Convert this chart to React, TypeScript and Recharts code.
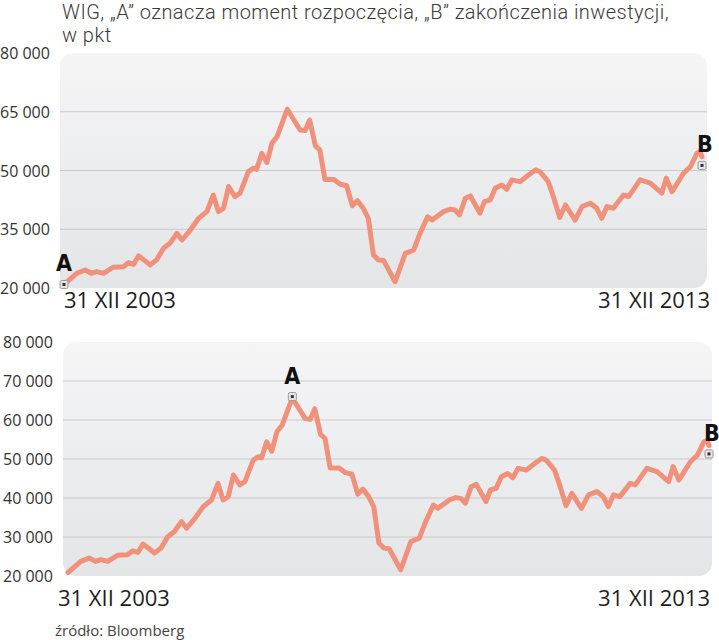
import React from "react";
import {
  LineChart,
  Line,
  XAxis,
  YAxis,
  CartesianGrid,
  ReferenceDot,
} from "recharts";

// WIG, 31 XII 2003 – 31 XII 2013 (x = year fraction, 2004.0 = 31 XII 2003)
const years = [
  2004.0, 2004.2, 2004.33, 2004.43, 2004.51, 2004.62, 2004.77, 2004.93, 2005.01, 2005.09,
  2005.17, 2005.35, 2005.45, 2005.56, 2005.66, 2005.77, 2005.85, 2005.98, 2006.11, 2006.24,
  2006.34, 2006.42, 2006.5, 2006.58, 2006.68, 2006.76, 2006.89, 2006.97, 2007.02, 2007.1,
  2007.18, 2007.26, 2007.34, 2007.5, 2007.7, 2007.78, 2007.85, 2007.94, 2008.01, 2008.09,
  2008.23, 2008.33, 2008.43, 2008.52, 2008.6, 2008.69, 2008.77, 2008.85, 2008.93, 2009.01,
  2009.19, 2009.35, 2009.48, 2009.58, 2009.7, 2009.77, 2009.95, 2010.05, 2010.13, 2010.2,
  2010.29, 2010.37, 2010.52, 2010.59, 2010.68, 2010.76, 2010.86, 2010.94, 2011.02, 2011.15,
  2011.28, 2011.39, 2011.46, 2011.59, 2011.67, 2011.77, 2011.86, 2012.01, 2012.12, 2012.25,
  2012.35, 2012.43, 2012.51, 2012.61, 2012.77, 2012.85, 2013.03, 2013.19, 2013.37, 2013.44,
  2013.53, 2013.71, 2013.82, 2013.92, 2013.97, 2014.0,
];

const wig = [
  20900, 23750, 24600, 23750, 24200, 23750, 25300, 25450, 26450, 26050,
  28200, 25900, 27150, 30150, 31400, 33950, 32250, 34800, 37800, 39500,
  43750, 39500, 40350, 45900, 43350, 44200, 49700, 50600, 50300, 54400,
  52000, 57000, 58650, 65650, 60350, 60200, 62900, 56300, 55250, 47700,
  47700, 46500, 46100, 41000, 42300, 40350, 37800, 28450, 27150, 27000,
  21600, 28850, 29700, 33950, 38200, 37350, 39500, 40100, 39900, 38650,
  42900, 43500, 39100, 42050, 42500, 45450, 46300, 45200, 47600, 47150,
  48850, 50150, 49700, 47150, 43350, 38000, 41200, 37350, 40800, 41650,
  40350, 37800, 40800, 40350, 43750, 43350, 47600, 46750, 44200, 48050,
  44600, 49300, 51000, 54400, 54850, 53500,
];

const xTicks = [2004, 2014];
const xTickLabels = ["31 XII 2003", "31 XII 2013"];
const yTicksTop = [20000, 35000, 50000, 65000, 80000];
const yTicksBottom = [20000, 30000, 40000, 50000, 60000, 70000, 80000];

// markers: [year, value, label]
const markersTop: [number, number, string][] = [
  [2004.0, 20900, "A"],
  [2014.0, 51300, "B"],
];
const markersBottom: [number, number, string][] = [
  [2007.5, 66000, "A"],
  [2014.0, 51300, "B"],
];

const data = years.map((year, i) => ({ year, wig: wig[i] }));

const LINE = "#f0917b";
const fmt = (v: number) => `${Math.round(v / 1000)} 000`;

const yTick = (left: number) => (props: any) => {
  const { y, payload } = props;
  return (
    <text x={left} y={y + 6} textAnchor="start" fill="#333" fontSize={16} fontFamily="'Open Sans', sans-serif">
      {fmt(payload.value)}
    </text>
  );
};

const xTick = (dxStart: number, dxEnd: number, dy: number) => (props: any) => {
  const { x, y, payload } = props;
  const first = payload.value === xTicks[0];
  const label = xTickLabels[xTicks.indexOf(payload.value)];
  return (
    <text
      x={x + (first ? dxStart : dxEnd)}
      y={y + dy}
      textAnchor={first ? "start" : "end"}
      fill="#1e1e1e"
      fontSize={22}
      fontFamily="'Open Sans', sans-serif"
    >
      {label}
    </text>
  );
};

const markerShape = (label: string) => (props: any) => {
  const { cx, cy } = props;
  return (
    <g>
      <rect x={cx - 4} y={cy - 4} width={8} height={8} rx={1.5} fill="#e6e6e6" stroke="#9a9a9a" strokeWidth={1} />
      <rect x={cx - 1.5} y={cy - 1.5} width={3} height={3} fill="#333" />
      <text
        x={cx + (label === "B" ? 3 : 0)}
        y={cy - 13}
        textAnchor="middle"
        fill="#111"
        fontSize={23}
        fontWeight="bold"
        fontFamily="'DejaVu Sans Condensed', 'Liberation Sans Narrow', sans-serif"
      >
        {label}
      </text>
    </g>
  );
};

const panelBg = {
  position: "absolute" as const,
  borderRadius: 13,
  background: "linear-gradient(#f5f5f6, #e4e5e7)",
};

const X_AXIS_H = 20;

function Panel({
  top,
  height,
  margin,
  yWidth,
  yLeft,
  padding,
  yTicks,
  grid,
  markers,
  xDx,
}: any) {
  return (
    <div style={{ position: "absolute", left: 0, top, width: 719, height }}>
      <div
        style={{
          ...panelBg,
          left: yWidth,
          top: margin.top,
          width: 719 - yWidth - margin.right,
          height: height - margin.top - margin.bottom - X_AXIS_H,
        }}
      />
      <div style={{ position: "absolute", left: 0, top: 0 }}>
        <LineChart width={719} height={height} data={data} margin={margin}>
          <CartesianGrid vertical={false} horizontalValues={grid} stroke="#c9c9cb" strokeWidth={1} />
          <XAxis
            dataKey="year"
            type="number"
            domain={[2004, 2014]}
            ticks={xTicks}
            height={X_AXIS_H}
            axisLine={false}
            tickLine={false}
            padding={padding}
            tick={xTick(xDx[0], xDx[1], xDx[2])}
            interval={0}
          />
          <YAxis
            type="number"
            domain={[20000, 80000]}
            ticks={yTicks}
            width={yWidth}
            axisLine={false}
            tickLine={false}
            tick={yTick(yLeft)}
            interval={0}
          />
          <Line
            type="linear"
            dataKey="wig"
            stroke={LINE}
            strokeWidth={5}
            strokeLinejoin="round"
            strokeLinecap="round"
            dot={false}
            isAnimationActive={false}
          />
          {markers.map(([x, y, label]: [number, number, string]) => (
            <ReferenceDot key={label} x={x} y={y} r={4} shape={markerShape(label)} ifOverflow="visible" />
          ))}
        </LineChart>
      </div>
    </div>
  );
}

export default function App() {
  return (
    <div
      style={{
        position: "absolute",
        left: 0,
        top: 0,
        width: 719,
        height: 640,
        background: "#fff",
        overflow: "hidden",
      }}
    >
      <div
        style={{
          position: "absolute",
          left: 62,
          top: 1,
          fontFamily: "Roboto, sans-serif",
          fontWeight: 300,
          fontSize: 20,
          letterSpacing: 0.45,
          lineHeight: "23px",
          color: "#3a3a3a",
          whiteSpace: "nowrap",
        }}
      >
        WIG, „A” oznacza moment rozpoczęcia, „B” zakończenia inwestycji,
        <br />w pkt
      </div>
      <Panel
        top={0}
        height={320}
        margin={{ top: 53, right: 12, bottom: 12, left: 0 }}
        yWidth={60}
        yLeft={0}
        padding={{ left: 4, right: 5 }}
        yTicks={yTicksTop}
        grid={[35000, 50000, 65000]}
        markers={markersTop}
        xDx={[0, 8, 12]}
      />
      <Panel
        top={320}
        height={320}
        margin={{ top: 22, right: 7, bottom: 44, left: 0 }}
        yWidth={63}
        yLeft={3}
        padding={{ left: 5, right: 3 }}
        yTicks={yTicksBottom}
        grid={[30000, 40000, 50000, 60000, 70000]}
        markers={markersBottom}
        xDx={[-10, 1, 22]}
      />
      <div
        style={{
          position: "absolute",
          left: 55,
          top: 620,
          fontFamily: "'Open Sans', sans-serif",
          fontSize: 15,
          color: "#444",
        }}
      >
        źródło: Bloomberg
      </div>
    </div>
  );
}
